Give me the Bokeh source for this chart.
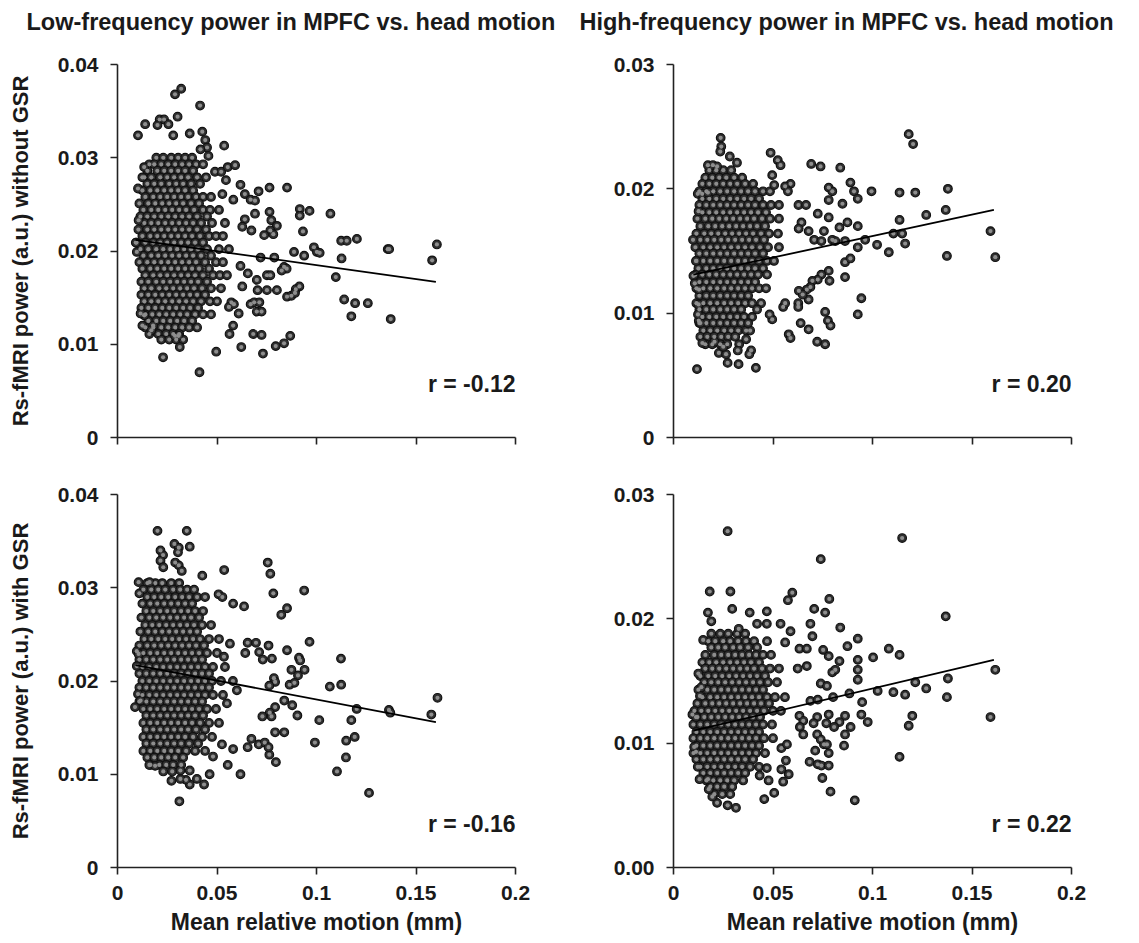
from bokeh.plotting import figure
from bokeh.models import Range1d, FixedTicker, Label, Title
from bokeh.layouts import column, row
from bokeh.embed import file_html
from bokeh.resources import INLINE

FONT = "Liberation Sans"
TXT = "#1a1a1a"

# ---------------- text / ticks ----------------
titles = ["Low-frequency power in MPFC vs. head motion",
          "High-frequency power in MPFC vs. head motion"]
y_labels = ["Rs-fMRI power (a.u.) without GSR", "Rs-fMRI power (a.u.) with GSR"]
x_label = "Mean relative motion (mm)"
r_texts = ["r = -0.12", "r = 0.20", "r = -0.16", "r = 0.22"]

x_ticks = [0.0, 0.05, 0.1, 0.15, 0.2]
x_tick_labels = ["0", "0.05", "0.1", "0.15", "0.2"]
y_ticks_lf = [0.0, 0.01, 0.02, 0.03, 0.04]
y_tick_labels_lf = ["0", "0.01", "0.02", "0.03", "0.04"]
y_ticks_hf = [0.0, 0.01, 0.02, 0.03]
y_tick_labels_hf_top = ["0", "0.01", "0.02", "0.03"]
y_tick_labels_hf_bot = ["0.00", "0.01", "0.02", "0.03"]

# ---------------- data ----------------
# All values in thousandths: motion in 1e-3 mm, power in 1e-3 a.u.
# Dense cores are read row by row: {power: [motion, ...]}

lf_nogsr_core = {
    30.0: [19.5, 23, 27, 30.5, 34, 37.5],
    29.3: [16, 18.5, 22, 25.5, 29, 32.5, 36, 39.5, 43],
    28.6: [15, 20, 23.5, 27, 30.5, 34, 38],
    27.9: [13.5, 17, 21.5, 25, 28.5, 32, 35.5, 40, 44.5],
    27.2: [15, 18.5, 22, 26, 29.5, 33, 37, 41.5],
    26.5: [12.5, 16.5, 20, 23.5, 27, 30.5, 34, 38],
    25.8: [14, 18, 21.5, 25, 28.5, 32, 35.5, 39.5, 43, 47],
    25.1: [11, 15.5, 19, 22.5, 26, 29.5, 33, 37, 41],
    24.4: [13, 17, 20.5, 24, 27.5, 31, 34.5, 38.5, 43, 46.5, 51],
    23.7: [11.5, 15, 18.5, 22, 25.5, 29, 32.5, 36, 40, 45],
    23.0: [13.5, 17, 20.5, 24, 27.5, 31, 34.5, 38, 42, 47.5, 54],
    22.3: [10.5, 15, 18.5, 22, 25.5, 29, 32.5, 36, 40, 44.5],
    21.6: [12.5, 16.5, 20, 23.5, 27, 30.5, 34, 37.5, 41.5, 46, 49.5, 53],
    20.9: [9.5, 14, 18, 21.5, 25, 28.5, 32, 35.5, 39, 43],
    20.2: [11.5, 15.5, 19.5, 23, 26.5, 30, 33.5, 37, 40.5, 45, 51, 56],
    19.5: [13, 17, 20.5, 24, 27.5, 31, 34.5, 38, 42, 47],
    18.8: [11, 15, 18.5, 22, 25.5, 29, 32.5, 36, 39.5, 44, 49.5, 53],
    18.1: [12.5, 16.5, 20, 23.5, 27, 30.5, 34, 37.5, 41, 46],
    17.4: [14, 18, 21.5, 25, 28.5, 32, 35.5, 39, 43, 48, 51.5, 55],
    16.7: [12, 15.5, 19.5, 23, 26.5, 30, 33.5, 37, 40.5, 45],
    16.0: [13.5, 17, 21, 24.5, 28, 31.5, 35, 38.5, 42.5, 47, 52],
    15.3: [12, 15.5, 19, 22.5, 26, 29.5, 33, 36.5, 40, 44],
    14.6: [13.5, 17, 20.5, 24, 27.5, 31, 34.5, 38, 42, 46.5, 50],
    13.9: [12, 15.5, 19, 22.5, 26, 29.5, 33, 36.5, 40.5],
    13.2: [14, 17.5, 21, 24.5, 28, 31.5, 35, 39, 43, 47],
    12.5: [15.5, 19.5, 23, 26.5, 30, 33.5, 37.5],
    11.8: [14, 18, 22, 25.5, 29, 32.5, 36, 40],
    11.1: [16, 20.5, 24.5, 28, 31],
    10.5: [22, 26, 29.5, 33],
}
lf_nogsr_sparse = [
    (32.0, 37.4), (28.9, 36.8), (41.5, 35.6), (30.2, 34.4), (10.3, 32.4), (13.9, 33.6),
    (21.2, 34.1), (23.4, 34.1), (25.6, 33.6), (20.1, 33.5), (36.3, 32.6), (28.0, 32.4),
    (42.6, 32.8), (44.1, 31.9), (45.0, 31.1), (45.7, 30.2), (41.7, 30.9), (53.6, 31.3),
    (49.0, 28.5), (52.1, 28.5), (55.4, 29.0), (59.1, 29.2), (54.5, 27.6), (61.8, 27.1),
    (76.4, 26.8), (85.2, 26.8), (70.9, 26.4), (64.0, 26.1), (66.9, 25.5), (69.1, 25.4),
    (58.2, 25.5), (52.7, 26.1), (91.6, 24.5), (91.6, 23.8), (96.5, 24.3), (107.0, 24.0),
    (69.1, 24.0), (76.4, 24.2), (77.3, 23.3), (80.1, 22.7), (76.8, 22.2), (64.0, 23.4),
    (62.7, 22.6), (67.3, 22.2), (93.2, 22.1), (73.7, 21.7), (78.3, 21.8), (112.4, 21.1),
    (115.2, 21.1), (120.3, 21.3), (135.8, 20.2), (136.5, 20.2), (160.5, 20.7), (158.1, 19.0),
    (112.6, 19.2), (98.7, 20.4), (100.2, 19.9), (101.6, 19.8), (88.7, 19.9), (93.8, 19.5),
    (71.9, 19.3), (78.8, 19.3), (61.8, 18.4), (83.7, 18.3), (85.0, 18.1), (82.5, 17.9),
    (109.7, 17.2), (70.0, 16.9), (75.1, 17.4), (76.8, 17.4), (65.5, 17.6), (91.4, 16.2),
    (89.6, 15.9), (85.2, 15.1), (87.4, 15.2), (89.2, 15.5), (70.4, 15.8), (75.1, 15.8),
    (80.1, 15.8), (66.9, 14.3), (68.7, 14.5), (71.3, 14.5), (70.0, 13.5), (72.4, 13.5),
    (60.9, 13.3), (62.7, 16.2), (113.9, 14.8), (119.4, 14.4), (125.8, 14.4), (117.5, 13.0),
    (137.3, 12.7), (57.2, 14.5), (56.0, 14.0), (58.5, 14.3), (58.1, 12.0), (56.3, 11.1),
    (68.2, 11.1), (72.4, 11.0), (86.8, 10.9), (83.7, 10.1), (79.5, 9.8), (73.1, 9.0),
    (62.2, 9.7), (49.6, 9.2), (31.3, 9.7), (22.9, 8.6), (41.2, 7.0), (28.9, 10.9),
    (30.7, 10.9), (17.9, 12.0), (17.0, 11.5), (13.4, 13.1), (12.5, 12.0), (9.2, 20.9),
    (9.7, 19.9), (11.6, 13.3), (10.6, 23.3), (10.3, 26.7), (12.5, 27.9), (13.4, 29.0),
]
lf_nogsr_fit_x = [9, 160]
lf_nogsr_fit_y = [21.2, 16.7]

hf_nogsr_core = {
    21.5: [18, 21.5, 25, 29],
    20.9: [16, 19.5, 23, 26.5, 30.5, 34.5],
    20.4: [14.5, 18, 21.5, 25, 28.5, 32, 36, 40],
    19.8: [13, 16.5, 20, 23.5, 27, 30.5, 34, 37.5, 41, 45, 48.5],
    19.2: [14.5, 18, 21.5, 25, 28.5, 32, 35.5, 39, 43],
    18.7: [13, 16.5, 20, 23.5, 27, 30.5, 34, 37.5, 41, 45, 49, 53],
    18.1: [14.5, 18, 21.5, 25, 28.5, 32, 35.5, 39, 42.5, 46.5],
    17.6: [12, 16, 19.5, 23, 26.5, 30, 33.5, 37, 40.5, 44.5, 48.5, 53],
    17.0: [13.5, 17.5, 21, 24.5, 28, 31.5, 35, 38.5, 42, 46],
    16.4: [11.5, 15.5, 19, 22.5, 26, 29.5, 33, 36.5, 40, 44, 48, 52.5],
    15.9: [13.5, 17, 20.5, 24, 27.5, 31, 34.5, 38, 41.5, 45.5],
    15.3: [11, 15, 18.5, 22, 25.5, 29, 32.5, 36, 39.5, 43.5, 47.5, 53],
    14.8: [13, 16.5, 20, 23.5, 27, 30.5, 34, 37.5, 41, 45],
    14.2: [11.5, 15, 18.5, 22, 25.5, 29, 32.5, 36, 39.5, 43, 47, 50.5],
    13.6: [12.5, 16.5, 20, 23.5, 27, 30.5, 34, 37.5, 41, 45],
    13.1: [11, 14.5, 18, 21.5, 25, 28.5, 32, 35.5, 39, 42.5, 47],
    12.5: [13, 16.5, 20, 23.5, 27, 30.5, 34, 37.5, 41],
    12.0: [11.5, 15, 18.5, 22, 25.5, 29, 32.5, 36, 39.5, 43, 46.5],
    11.4: [13, 16.5, 20, 23.5, 27, 30.5, 34, 37.5],
    10.8: [11.5, 15, 18.5, 22, 25.5, 29, 32.5, 36, 39.5, 44],
    10.3: [13, 16.5, 20, 23.5, 27, 30.5, 34],
    9.7: [14.5, 18, 21.5, 25, 28.5, 32, 35.5, 39.5],
    9.2: [13, 16.5, 20, 23.5, 27, 30.5, 34],
    8.6: [15, 18.5, 22, 25.5, 29, 32.5, 36.5],
    8.1: [13.5, 17, 20.5, 24, 27.5, 31],
    7.5: [16, 19.5, 23.5, 27, 33],
}
hf_nogsr_sparse = [
    (118.2, 24.4), (120.4, 23.6), (23.7, 24.1), (24.0, 23.4), (23.5, 23.0), (28.3, 22.6),
    (31.9, 22.1), (48.8, 22.9), (52.4, 22.3), (53.8, 21.9), (69.2, 22.0), (73.9, 21.8),
    (83.8, 21.7), (49.6, 21.1), (17.3, 21.9), (19.8, 21.9), (21.9, 21.8), (50.6, 20.3),
    (58.8, 20.4), (56.1, 20.2), (57.5, 19.8), (78.0, 20.1), (79.8, 19.8), (88.9, 20.5),
    (90.7, 19.8), (92.6, 19.2), (99.5, 19.8), (113.6, 19.7), (121.5, 19.7), (137.9, 20.0),
    (78.0, 19.1), (84.9, 18.8), (62.8, 18.7), (66.6, 18.7), (127.0, 17.9), (136.8, 18.3),
    (72.5, 18.0), (78.0, 17.7), (113.6, 17.5), (87.4, 17.3), (83.4, 16.9), (92.6, 17.0),
    (64.3, 17.3), (62.9, 16.8), (67.9, 16.6), (159.3, 16.6), (110.5, 16.4), (114.9, 16.4),
    (116.4, 15.6), (96.3, 15.9), (102.3, 15.5), (108.2, 14.9), (137.4, 14.6), (161.7, 14.5),
    (92.6, 15.3), (86.2, 15.8), (79.8, 15.9), (81.3, 15.8), (70.7, 15.9), (74.3, 15.8),
    (75.6, 16.6), (86.2, 14.1), (88.9, 14.4), (86.2, 12.9), (78.0, 13.4), (78.4, 12.6),
    (74.3, 13.1), (72.5, 12.7), (69.8, 12.6), (68.8, 12.1), (67.0, 11.9), (67.9, 11.1),
    (63.0, 11.8), (62.7, 10.8), (62.7, 10.5), (64.9, 11.5), (94.4, 11.2), (92.6, 9.9),
    (76.2, 10.1), (77.6, 9.4), (78.9, 9.0), (63.9, 9.2), (67.9, 8.7), (57.9, 8.3),
    (58.8, 8.0), (72.2, 7.7), (76.2, 7.5), (49.6, 9.5), (48.3, 9.9), (55.1, 10.5),
    (56.1, 10.8), (41.4, 5.6), (32.7, 5.9), (27.2, 6.0), (11.8, 5.5), (22.8, 6.8),
    (26.4, 6.7), (25.0, 7.3), (39.0, 7.0), (38.1, 6.7), (32.3, 7.0), (14.5, 7.6),
    (20.6, 7.7), (12.7, 9.4), (13.5, 9.2), (12.3, 9.9), (9.8, 15.9), (11.3, 14.2),
    (10.0, 13.0), (10.7, 12.4), (12.6, 18.2), (12.2, 19.6), (14.4, 19.6), (17.3, 19.7),
    (12.6, 10.7), (12.8, 11.9), (38.5, 8.6), (37.5, 9.2), (42.0, 10.3), (36.5, 7.9),
]
hf_nogsr_fit_x = [10, 161]
hf_nogsr_fit_y = [13.1, 18.3]

lf_gsr_core = {
    30.5: [15, 19, 22.5, 27, 31],
    29.8: [13, 17, 20.5, 24, 28, 31.5, 35, 38.5],
    29.0: [15, 18.5, 22, 25.5, 29, 32.5, 36, 40, 44],
    28.3: [12.5, 16.5, 20, 23.5, 27, 30.5, 34, 37.5],
    27.5: [14.5, 18, 21.5, 25, 28.5, 32, 35.5, 39, 43],
    26.8: [12, 16, 19.5, 23, 26.5, 30, 33.5, 37, 41],
    26.0: [14, 17.5, 21, 24.5, 28, 31.5, 35, 38.5, 42.5, 47],
    25.3: [11.5, 15.5, 19, 22.5, 26, 29.5, 33, 36.5, 40],
    24.5: [13.5, 17, 20.5, 24, 27.5, 31, 34.5, 38, 41.5, 46, 51],
    23.8: [11, 15, 18.5, 22, 25.5, 29, 32.5, 36, 39.5, 43.5],
    23.0: [13, 16.5, 20, 23.5, 27, 30.5, 34, 37.5, 41, 45, 50],
    22.3: [11, 14.5, 18, 21.5, 25, 28.5, 32, 35.5, 39, 42.5],
    21.5: [12.5, 16, 19.5, 23, 26.5, 30, 33.5, 37, 40.5, 44, 48, 54],
    20.8: [11, 14.5, 18, 21.5, 25, 28.5, 32, 35.5, 39, 42.5, 46],
    20.0: [12.5, 16, 19.5, 23, 26.5, 30, 33.5, 37, 40.5, 44, 47.5, 52, 58],
    19.3: [11, 14.5, 18, 21.5, 25, 28.5, 32, 35.5, 39, 42.5, 46],
    18.5: [12.5, 16, 19.5, 23, 26.5, 30, 33.5, 37, 40.5, 44, 48, 53],
    17.8: [11, 14.5, 18, 21.5, 25, 28.5, 32, 35.5, 39, 42.5],
    17.0: [13, 16.5, 20, 23.5, 27, 30.5, 34, 37.5, 41, 45, 49.5],
    16.3: [14.5, 18, 21.5, 25, 28.5, 32, 35.5, 39, 43],
    15.5: [13, 16.5, 20, 23.5, 27, 30.5, 34, 37.5, 41.5, 46, 51],
    14.8: [14.5, 18, 21.5, 25, 28.5, 32, 35.5, 39.5, 44],
    14.0: [13, 16.5, 20, 23.5, 27, 30.5, 34, 38, 42.5, 47.5],
    13.3: [14.5, 18, 21.5, 25, 28.5, 32, 36, 40.5],
    12.5: [13, 16.5, 20, 23.5, 27, 30.5, 34.5, 39, 44],
    11.8: [15, 18.5, 22, 25.5, 29, 33],
    11.0: [16.5, 21, 24.5, 28, 32],
    10.3: [23, 27.5],
}
lf_gsr_sparse = [
    (20.1, 36.1), (34.8, 36.1), (28.6, 34.7), (30.8, 34.3), (36.3, 34.4), (30.4, 33.8),
    (21.6, 34.0), (22.9, 33.5), (29.0, 32.7), (30.8, 32.4), (32.3, 31.8), (21.6, 32.9),
    (23.0, 32.2), (42.6, 31.3), (53.6, 31.9), (75.5, 32.7), (76.8, 31.5), (78.3, 29.4),
    (93.8, 29.7), (10.6, 30.6), (11.0, 29.4), (16.1, 30.6), (50.8, 29.3), (52.7, 29.0),
    (58.1, 28.3), (63.6, 28.0), (82.3, 27.1), (85.2, 27.8), (96.5, 24.2), (65.4, 24.1),
    (69.6, 24.1), (75.9, 23.8), (64.2, 23.0), (71.2, 23.1), (73.0, 22.3), (77.6, 22.4),
    (85.2, 23.3), (91.2, 22.5), (91.8, 22.2), (112.3, 22.4), (94.0, 21.2), (87.4, 21.2),
    (90.7, 20.6), (106.7, 19.4), (112.4, 19.6), (86.5, 19.6), (88.9, 19.8), (78.6, 20.3),
    (79.2, 19.9), (76.3, 19.5), (160.8, 18.2), (120.2, 17.0), (136.4, 16.9), (137.1, 16.6),
    (157.7, 16.4), (117.5, 15.8), (101.4, 15.8), (90.4, 16.3), (87.8, 17.4), (83.8, 17.9),
    (79.2, 17.2), (76.5, 16.6), (77.4, 16.2), (72.8, 16.2), (99.2, 13.4), (114.9, 13.6),
    (119.2, 14.0), (114.8, 11.8), (110.3, 10.3), (126.4, 8.0), (79.2, 14.5), (83.8, 14.5),
    (76.3, 12.1), (79.6, 11.3), (71.0, 13.2), (74.0, 13.4), (75.9, 12.9), (67.3, 13.8),
    (65.4, 12.9), (61.8, 10.0), (55.4, 11.0), (58.1, 12.7), (46.3, 10.0), (43.5, 8.9),
    (39.9, 9.5), (36.3, 8.9), (34.4, 9.4), (31.6, 9.5), (27.1, 9.3), (31.1, 7.1),
    (31.6, 10.4), (36.3, 10.4), (16.0, 11.0), (18.9, 10.9), (8.8, 17.2), (10.3, 18.6),
    (11.6, 17.9), (9.7, 21.6), (9.7, 23.2), (10.6, 22.9), (56.5, 24.0), (53.5, 22.6),
    (55.0, 17.6), (60.0, 19.0), (52.5, 13.2), (48.0, 11.9),
]
lf_gsr_fit_x = [9, 160]
lf_gsr_fit_y = [21.7, 15.6]

hf_gsr_core = {
    18.8: [19, 23.5, 27.5, 32, 36],
    18.2: [17.5, 21, 25, 28.5, 32.5, 36.5, 40.5, 47],
    17.7: [19, 22.5, 26, 30, 33.5, 37.5, 42],
    17.1: [16, 20.5, 24, 27.5, 31, 34.5, 38, 41.5, 45, 49],
    16.5: [14.5, 18, 21.5, 25, 28.5, 32, 35.5, 39, 43],
    16.0: [16, 19.5, 23, 26.5, 30, 33.5, 37, 40.5, 44.5, 48.5, 53],
    15.4: [13.5, 17.5, 21, 24.5, 28, 31.5, 35, 38.5, 42, 46],
    14.9: [15.5, 19, 22.5, 26, 29.5, 33, 36.5, 40, 43.5, 47.5, 52],
    14.3: [12.5, 17, 20.5, 24, 27.5, 31, 34.5, 38, 41.5, 45],
    13.7: [14.5, 18.5, 22, 25.5, 29, 32.5, 36, 39.5, 43, 47, 51, 56],
    13.2: [12, 16, 19.5, 23, 26.5, 30, 33.5, 37, 40.5, 44, 48],
    12.6: [10.5, 14, 17.5, 21, 24.5, 28, 31.5, 35, 38.5, 42, 45.5, 50, 54],
    12.1: [12, 15.5, 19, 22.5, 26, 29.5, 33, 36.5, 40, 43.5],
    11.5: [10, 13.5, 17, 20.5, 24, 27.5, 31, 34.5, 38, 41.5, 45, 49.5],
    10.9: [11.5, 15, 18.5, 22, 25.5, 29, 32.5, 36, 39.5, 43],
    10.4: [10, 13.5, 17, 20.5, 24, 27.5, 31, 34.5, 38, 41.5, 45.5, 50],
    9.8: [11.5, 15, 18.5, 22, 25.5, 29, 32.5, 36, 39.5, 43],
    9.2: [10, 13.5, 17, 20.5, 24, 27.5, 31, 34.5, 38, 41.5, 46],
    8.7: [11.5, 15, 18.5, 22, 25.5, 29, 32.5, 36, 40],
    8.1: [13.5, 17, 20.5, 24, 27.5, 31, 34.5, 38.5, 43],
    7.6: [15, 18.5, 22, 25.5, 29, 32.5, 36],
    7.0: [16.5, 20, 23.5, 27, 30.5, 35],
    6.5: [18.5, 22, 25.5, 29.5],
    5.9: [20.5, 24.5, 28.5],
}
hf_gsr_sparse = [
    (27.2, 27.05), (114.9, 26.5), (74.0, 24.8), (18.2, 22.2), (28.6, 22.2), (59.7, 22.1),
    (57.5, 21.5), (78.3, 21.6), (70.7, 20.8), (76.2, 20.5), (29.5, 20.8), (17.3, 20.5),
    (19.0, 19.8), (38.3, 20.5), (46.9, 20.6), (46.9, 19.6), (53.8, 19.6), (68.8, 19.6),
    (83.8, 19.3), (136.8, 20.2), (42.0, 19.6), (32.8, 19.2), (14.9, 18.3), (58.8, 19.0),
    (56.1, 18.1), (69.8, 18.6), (92.6, 18.4), (87.4, 17.8), (75.2, 17.5), (78.0, 17.0),
    (108.2, 17.6), (113.6, 17.1), (100.3, 16.9), (92.6, 16.7), (92.6, 15.9), (92.6, 15.1),
    (83.4, 16.6), (63.3, 17.6), (67.0, 17.6), (62.4, 16.0), (67.0, 16.2), (79.8, 15.7),
    (81.3, 15.9), (161.7, 15.9), (137.9, 15.2), (121.5, 14.9), (127.0, 14.4), (102.6, 14.2),
    (110.5, 14.1), (116.4, 13.9), (137.4, 13.7), (88.4, 14.0), (80.2, 13.7), (74.0, 14.8),
    (77.1, 14.6), (68.8, 13.4), (72.5, 13.5), (94.8, 13.3), (94.4, 12.3), (97.6, 11.7),
    (120.0, 12.2), (118.2, 11.4), (159.3, 12.1), (86.2, 12.2), (83.4, 11.7), (80.7, 11.3),
    (78.0, 12.3), (76.8, 11.6), (72.2, 12.1), (70.4, 11.6), (63.3, 12.2), (65.2, 11.8),
    (63.5, 11.3), (65.2, 10.7), (72.2, 10.7), (74.0, 10.3), (75.6, 9.9), (86.2, 10.7),
    (85.7, 9.8), (89.0, 11.3), (77.1, 9.9), (78.0, 9.2), (71.2, 9.4), (68.4, 8.5),
    (72.5, 8.3), (74.3, 8.2), (78.0, 8.2), (74.8, 7.2), (113.6, 8.9), (91.1, 5.4),
    (78.9, 6.1), (50.6, 6.0), (45.6, 5.5), (54.2, 9.6), (57.0, 9.9), (56.5, 8.6),
    (54.2, 7.9), (57.9, 7.5), (55.1, 6.9), (46.9, 8.0), (47.8, 7.0), (43.3, 7.4),
    (31.4, 4.8), (27.2, 5.0), (21.9, 5.2), (19.5, 5.7), (17.7, 6.3), (17.3, 7.1),
    (13.1, 7.1), (12.2, 8.1), (11.3, 9.3), (10.4, 9.7), (9.5, 12.3), (11.3, 12.1),
    (12.5, 15.6), (14.0, 14.5), (13.3, 13.8),
]
hf_gsr_fit_x = [10, 161]
hf_gsr_fit_y = [11.0, 16.7]


def to_points(core, sparse):
    xs, ys = [], []
    for yv, row_x in core.items():
        for xv in row_x:
            xs.append(xv / 1000.0)
            ys.append(yv / 1000.0)
    for xv, yv in sparse:
        xs.append(xv / 1000.0)
        ys.append(yv / 1000.0)
    return xs, ys


def style_axis(ax):
    ax.axis_line_color = "#222222"
    ax.axis_line_width = 1.6
    ax.major_tick_line_color = "#222222"
    ax.major_tick_line_width = 1.6
    ax.major_tick_out = 7
    ax.major_tick_in = 0
    ax.minor_tick_line_color = None
    ax.major_label_text_font = FONT
    ax.major_label_text_font_style = "bold"
    ax.major_label_text_font_size = "21px"
    ax.major_label_text_color = TXT
    ax.axis_label_text_font = FONT
    ax.axis_label_text_font_style = "bold"
    ax.axis_label_text_font_size = "22px"
    ax.axis_label_text_color = TXT


def make_panel(core, sparse, fit_x, fit_y, ymax, yticks, ytick_labels,
               width, height, mb_l, mb_r, mb_t, mb_b, top_row,
               ylabel=None, title=None, title_off=0, r_text="", r_off=54):
    p = figure(width=width, height=height,
               x_range=Range1d(0, 0.2), y_range=Range1d(0, ymax),
               output_backend="svg", toolbar_location=None, title=None,
               min_border_left=mb_l, min_border_right=mb_r,
               min_border_top=mb_t, min_border_bottom=mb_b)
    p.outline_line_color = None
    p.xgrid.visible = False
    p.ygrid.visible = False
    p.background_fill_color = "white"
    p.border_fill_color = "white"

    style_axis(p.xaxis[0])
    style_axis(p.yaxis[0])
    p.xaxis.ticker = FixedTicker(ticks=x_ticks)
    p.yaxis.ticker = FixedTicker(ticks=yticks)
    p.yaxis.major_label_overrides = dict(zip(yticks, ytick_labels))
    p.yaxis.major_label_standoff = 12
    if top_row:
        # tick marks only, no tick labels on the upper row
        p.xaxis.major_label_text_color = None
        p.xaxis.major_label_standoff = 0
    else:
        p.xaxis.major_label_overrides = dict(zip(x_ticks, x_tick_labels))
        p.xaxis.major_label_standoff = 11
        p.xaxis.axis_label = x_label
        p.xaxis.axis_label_standoff = 6
        p.xaxis.axis_label_text_font_size = "23px"
    if ylabel:
        p.yaxis.axis_label = ylabel
        p.yaxis.axis_label_standoff = 22

    xs, ys = to_points(core, sparse)
    # sphere-like markers: dark ring with a grey centre
    p.scatter(x=xs, y=ys, marker="circle", size=8.6,
              fill_color="#303030", line_color="#111111", line_width=1.2)
    p.scatter(x=xs, y=ys, marker="circle", size=4.2,
              fill_color="#8e8e8e", line_color=None)
    p.line(x=[v / 1000.0 for v in fit_x], y=[v / 1000.0 for v in fit_y],
           line_color="black", line_width=1.8)

    p.add_layout(Label(x=0.2, y=0, text=r_text, text_align="right",
                       text_baseline="middle", y_offset=r_off,
                       text_font=FONT, text_font_style="bold",
                       text_font_size="23px", text_color=TXT))
    if title:
        # blank spacer between the frame and the panel title
        p.add_layout(Title(text=" ", text_font_size="10px", standoff=10), "above")
        p.title = Title(text=title, align="left", offset=title_off,
                        vertical_align="bottom", standoff=13,
                        text_font=FONT, text_font_style="bold",
                        text_font_size="23.5px", text_color=TXT)
    return p


LW, RW = 567, 564
TH, BH = 468, 473

p1 = make_panel(lf_nogsr_core, lf_nogsr_sparse, lf_nogsr_fit_x, lf_nogsr_fit_y,
                0.04, y_ticks_lf, y_tick_labels_lf, LW, TH, 117, 52, 64, 31, True,
                ylabel=y_labels[0], title=titles[0], title_off=-91,
                r_text=r_texts[0], r_off=54)
p2 = make_panel(hf_nogsr_core, hf_nogsr_sparse, hf_nogsr_fit_x, hf_nogsr_fit_y,
                0.03, y_ticks_hf, y_tick_labels_hf_top, RW, TH, 106, 60, 64, 31, True,
                title=titles[1], title_off=-94, r_text=r_texts[1], r_off=54)
p3 = make_panel(lf_gsr_core, lf_gsr_sparse, lf_gsr_fit_x, lf_gsr_fit_y,
                0.04, y_ticks_lf, y_tick_labels_lf, LW, BH, 117, 52, 26, 74, False,
                ylabel=y_labels[1], r_text=r_texts[2], r_off=44)
p4 = make_panel(hf_gsr_core, hf_gsr_sparse, hf_gsr_fit_x, hf_gsr_fit_y,
                0.03, y_ticks_hf, y_tick_labels_hf_bot, RW, BH, 106, 60, 26, 74, False,
                r_text=r_texts[3], r_off=44)

layout = column(row(p1, p2), row(p3, p4))
open("out.html", "w").write(file_html(layout, INLINE))
